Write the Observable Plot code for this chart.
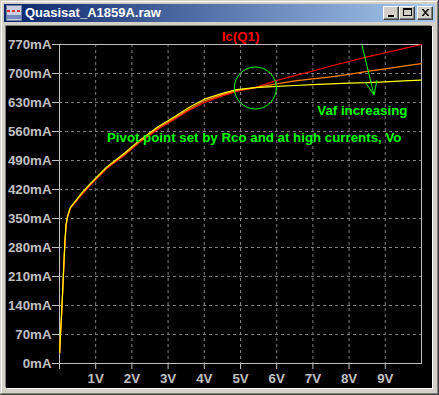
<!DOCTYPE html>
<html><head><meta charset="utf-8">
<script src="https://cdn.jsdelivr.net/npm/d3@7"></script>
<script src="https://cdn.jsdelivr.net/npm/@observablehq/plot@0.6"></script>
<style>
html,body{margin:0;padding:0;background:#d4d0c8;}
#win{position:absolute;left:0;top:0;width:439px;height:395px;background:#d4d0c8;overflow:hidden;}
.ln{position:absolute;}
#title{position:absolute;left:4px;top:4px;width:431px;height:18px;background:linear-gradient(to right,#0a246a,#a6caf0);}
#title span{position:absolute;left:21px;top:1px;color:#fff;font:bold 13px 'Liberation Sans',Arial,sans-serif;white-space:nowrap;}
#icon{position:absolute;left:2px;top:1px;}
.btn{position:absolute;top:2px;width:16px;height:14px;background:#d4d0c8;box-sizing:border-box;border-top:1px solid #fff;border-left:1px solid #fff;border-right:1px solid #404040;border-bottom:1px solid #404040;box-shadow:inset -1px -1px 0 #808080;}
.btn svg{position:absolute;left:0;top:0;}
#client{position:absolute;left:6px;top:26px;width:426px;height:362px;background:#000;box-shadow:-1px -1px 0 #808080, 1px 1px 0 #fff;}
#client svg{display:block;}
</style></head>
<body>
<div id="win">
  <div class="ln" style="left:0;top:0;width:439px;height:1px;background:#d4d0c8"></div>
  <div class="ln" style="left:1px;top:1px;width:436px;height:1px;background:#fff"></div>
  <div class="ln" style="left:1px;top:1px;width:1px;height:392px;background:#fff"></div>
  <div class="ln" style="left:438px;top:0;width:1px;height:395px;background:#404040"></div>
  <div class="ln" style="left:437px;top:1px;width:1px;height:393px;background:#808080"></div>
  <div class="ln" style="left:0;top:394px;width:439px;height:1px;background:#404040"></div>
  <div class="ln" style="left:1px;top:393px;width:437px;height:1px;background:#808080"></div>
  <div id="title">
    <svg id="icon" width="16" height="16">
      <rect x="0.5" y="0.5" width="15" height="15" fill="#c8d0e0" stroke="#7080a0"/>
      <path d="M1 6h3M6 6h3M11 6h3" stroke="#e00000" stroke-width="1.5"/>
      <path d="M1 11h14M1 13h14" stroke="#2040a0" stroke-width="1"/>
    </svg>
    <span>Quasisat_A1859A.raw</span>
    <div class="btn" style="left:379px"><svg width="14" height="12"><rect x="4" y="8" width="6" height="2" fill="#000"/></svg></div>
    <div class="btn" style="left:395px"><svg width="14" height="12"><rect x="3.5" y="1.5" width="8" height="7" fill="none" stroke="#000"/><rect x="3" y="1" width="9" height="2" fill="#000"/></svg></div>
    <div class="btn" style="left:413px"><svg width="14" height="12"><path d="M4 2l6 7M5 2l6 7M10 2l-6 7M11 2l-6 7" stroke="#000" stroke-width="1"/></svg></div>
  </div>
  <div id="client"></div>
</div>
<script>
// ---- data ----
const vce = [0.005, 0.03, 0.06, 0.09, 0.12, 0.15, 0.18, 0.22, 0.3, 0.4, 0.6, 0.85, 1.3, 1.8, 2.2, 2.7, 3.2, 3.6, 4.0, 4.5, 4.9, 5.4, 6.0, 6.5, 7.0, 7.5, 8.0, 8.5, 9.0, 9.5, 10];
const icRed    = [26, 72, 120, 175, 235, 290, 330, 352, 374, 385, 406, 430, 470, 503, 533, 564, 591, 612, 630, 646, 657, 666, 683, 695, 706, 718, 729, 740, 750, 760, 770];
const icOrange = [26, 74, 122, 177, 237, 292, 332, 353, 375, 386, 408, 432, 472, 505, 535, 567, 594, 615, 634, 649, 659, 666, 675, 682, 687, 692, 698, 705, 711, 718, 724];
const icYellow = [26, 76, 125, 180, 240, 295, 335, 355, 377, 388, 410, 434, 474, 508, 538, 570, 597, 619, 638, 652, 661, 666, 669, 671, 673, 675, 677, 678, 680, 682, 684];
const seriesNames  = ["Vaf low", "Vaf mid", "Vaf high"];
const seriesColors = ["#ff0000", "#ff8000", "#ffff00"];

const xTicks = [0, 1, 2, 3, 4, 5, 6, 7, 8, 9];
const xTickLabels = ["", "1V", "2V", "3V", "4V", "5V", "6V", "7V", "8V", "9V"];
const yTicks = [0, 70, 140, 210, 280, 350, 420, 490, 560, 630, 700, 770];
const yTickLabels = ["0mA", "70mA", "140mA", "210mA", "280mA", "350mA", "420mA", "490mA", "560mA", "630mA", "700mA", "770mA"];
const xGrid = [1, 2, 3, 4, 5, 6, 7, 8, 9];
const yGrid = [70, 140, 210, 280, 350, 420, 490, 560, 630, 700];

const chartTitle = "Ic(Q1)";
const noteTexts = ["Pivot point set by Rco and at high currents, Vo", "Vaf increasing"];
const noteV = [1.31, 7.12];
const noteI = [545, 610];
const circleV = [5.41];
const circleI = [665];
const arrowV1 = [8.35, 8.46, 8.77];
const arrowI1 = [770, 677, 684];
const arrowV2 = [8.69, 8.69, 8.69];
const arrowI2 = [648, 648, 648];

// ---- build tables ----
const allSeries = [icRed, icOrange, icYellow];
const rows = allSeries.flatMap((arr, k) => arr.map((ic, j) => ({v: vce[j], ic, s: seriesNames[k]})));
const notes = noteTexts.map((t, k) => ({t, v: noteV[k], ic: noteI[k]}));
const circles = circleV.map((v, k) => ({v, ic: circleI[k]}));
const arrows = arrowV1.map((v, k) => ({v1: v, i1: arrowI1[k], v2: arrowV2[k], i2: arrowI2[k]}));

const green = "#00ff00";
const chart = Plot.plot({
  width: 426,
  height: 362,
  marginLeft: 53,
  marginRight: 11,
  marginTop: 18,
  marginBottom: 25,
  style: {background: "#000", color: "#c0c0c0", fontFamily: "'Liberation Sans', Arial, sans-serif", fontSize: "13.3px", fontWeight: "bold", overflow: "visible"},
  x: {domain: [0, 10]},
  y: {domain: [0, 770]},
  color: {domain: seriesNames, range: seriesColors},
  marks: [
    Plot.gridX(xGrid, {stroke: "#808080", strokeOpacity: 1, strokeDasharray: "3,3"}),
    Plot.gridY(yGrid, {stroke: "#808080", strokeOpacity: 1, strokeDasharray: "3,3"}),
    Plot.frame({stroke: "#c0c0c0"}),
    Plot.axisX({ticks: xTicks, tickFormat: d => xTickLabels[xTicks.indexOf(d)], tickSize: 6, tickPadding: 4, stroke: "#c0c0c0", fill: "#c0c0c0"}),
    Plot.axisY({ticks: yTicks, tickFormat: d => yTickLabels[yTicks.indexOf(d)], tickSize: 7, tickPadding: 1, stroke: "#c0c0c0", fill: "#c0c0c0"}),
    Plot.line(rows, {x: "v", y: "ic", z: "s", stroke: "s", strokeWidth: 1.2}),
    Plot.dot(circles, {x: "v", y: "ic", r: 21, stroke: green, fill: "none", strokeWidth: 1}),
    Plot.link(arrows, {x1: "v1", y1: "i1", x2: "v2", y2: "i2", stroke: green, strokeWidth: 1}),
    Plot.text(notes, {x: "v", y: "ic", text: "t", fill: green, textAnchor: "start", lineAnchor: "middle"}),
    Plot.text([chartTitle], {frameAnchor: "top", text: d => d, fill: "#ff0000", lineAnchor: "bottom", dy: -4})
  ]
});
document.getElementById("client").appendChild(chart);
</script>
</body></html>
